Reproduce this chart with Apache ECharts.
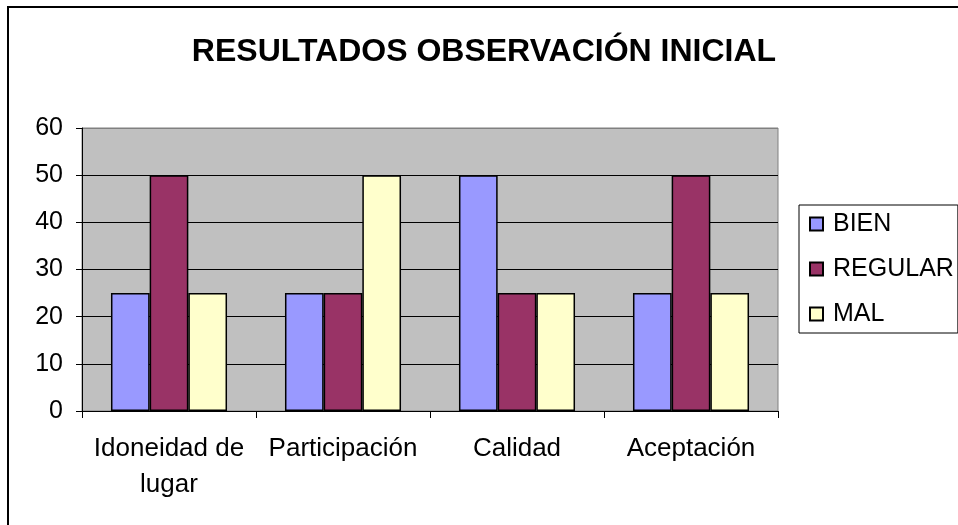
<!DOCTYPE html>
<html>
<head>
<meta charset="utf-8">
<script src="https://cdn.jsdelivr.net/npm/echarts@6/dist/echarts.min.js"></script>
<style>
html,body{margin:0;padding:0;background:#fff;}
#c{width:958px;height:525px;}
</style>
</head>
<body>
<div id="c"></div>
<script>
const titleText = 'RESULTADOS OBSERVACIÓN INICIAL';
const categories = ['Idoneidad de\nlugar', 'Participación', 'Calidad', 'Aceptación'];
const seriesNames = ['BIEN', 'REGULAR', 'MAL'];
const bien = [25, 25, 50, 25];
const regular = [50, 25, 25, 50];
const mal = [25, 50, 25, 25];
const colors = ['#9999FF', '#993366', '#FFFFCC'];

const chart = echarts.init(document.getElementById('c'), null, {renderer: 'canvas'});
const font = 'Liberation Sans, Arial, sans-serif';
const seriesData = [bien, regular, mal];

chart.setOption({
  animation: false,
  title: {
    text: titleText,
    left: 479, top: 31, textAlign: 'center',
    textStyle: {fontFamily: font, fontSize: 32, fontWeight: 'bold', color: '#000'}
  },
  graphic: [{
    type: 'polyline',
    shape: {points: [[8, 530], [8, 7], [965, 7]]},
    style: {stroke: '#000', lineWidth: 2, fill: null}
  }],
  legend: {
    orient: 'vertical',
    left: 799, top: 205,
    padding: [6, 4, 6, 10],
    itemGap: 19,
    itemWidth: 13, itemHeight: 13,
    borderColor: '#000', borderWidth: 1,
    icon: 'rect',
    textStyle: {fontFamily: font, fontSize: 25, color: '#000', lineHeight: 26, padding: [0, 0, 0, 5]},
    data: seriesNames
  },
  grid: {
    left: 82, top: 128, width: 696, height: 283,
    show: true, backgroundColor: '#C0C0C0', borderColor: '#808080', borderWidth: 1
  },
  xAxis: {
    type: 'category',
    data: categories,
    axisLine: {lineStyle: {color: '#000', width: 1}},
    axisTick: {show: true, length: 7, lineStyle: {color: '#000'}},
    axisLabel: {fontFamily: font, fontSize: 26, color: '#000', margin: 20, lineHeight: 36, interval: 0}
  },
  yAxis: {
    type: 'value', min: 0, max: 60, interval: 10,
    axisLine: {show: true, lineStyle: {color: '#000', width: 1}},
    axisTick: {show: true, length: 6, lineStyle: {color: '#000'}},
    axisLabel: {fontFamily: font, fontSize: 25, color: '#000', margin: 19},
    splitLine: {show: true, lineStyle: {color: ['#000', '#000', '#000', '#000', '#000', '#000', '#808080'], width: 1}}
  },
  series: seriesNames.map((n, i) => ({
    name: n,
    type: 'bar',
    data: seriesData[i],
    barGap: '0%',
    barCategoryGap: '33.3%',
    itemStyle: {color: colors[i], borderColor: '#000', borderWidth: 1.5}
  }))
});
</script>
</body>
</html>
